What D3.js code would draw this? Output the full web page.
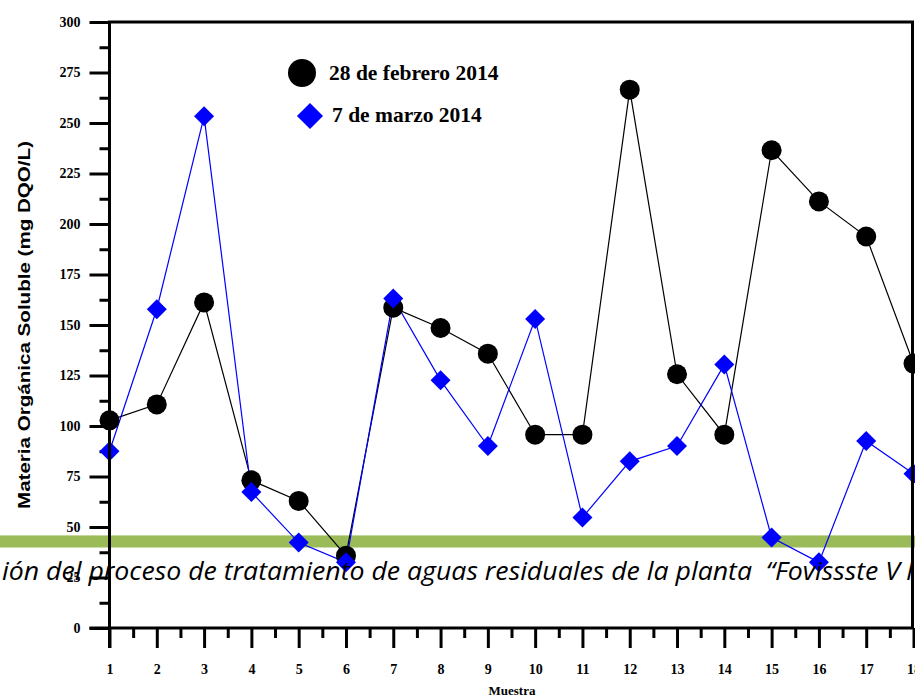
<!DOCTYPE html>
<html>
<head>
<meta charset="utf-8">
<script src="https://cdn.jsdelivr.net/npm/d3@7/dist/d3.min.js"></script>
<style>
  html, body { margin: 0; padding: 0; background: #fff; }
  svg { display: block; }
</style>
</head>
<body>
<script>
// Sample numbers along the x axis
const muestras = d3.range(1, 19);
// Soluble organic matter (mg DQO/L) per sample
const febrero28 = [102.8, 110.7, 161.2, 73.1, 62.9, 35.8, 158.6, 148.5, 135.8, 95.7, 95.7, 266.5, 125.6, 95.7, 236.5, 211.2, 193.8, 130.9];
const marzo7 = [87.5, 157.8, 253.3, 67.3, 42.3, 32.5, 163.1, 122.6, 90.1, 153.0, 54.7, 82.5, 90.1, 130.4, 44.8, 32.5, 92.6, 76.4];
const seriesNames = ["28 de febrero 2014", "7 de marzo 2014"];
const yTicks = d3.range(0, 301, 25);
const yTitle = "Materia Orgánica Soluble (mg DQO/L)";
const xTitle = "Muestra";
const bannerText = "ión del proceso de tratamiento de aguas residuales de la planta \u00A0\u201CFovissste V";

const W = 915, H = 700;
const svg = d3.select("body").append("svg").attr("width", W).attr("height", H);

const x = d3.scaleLinear().domain([1, 18]).range([109.5, 913.5]);
const y = d3.scaleLinear().domain([0, 300]).range([628, 22]);

const serif = "'Liberation Serif', 'Times New Roman', serif";

// Y axis: major ticks every 25, minor ticks in between
const yMajor = svg.append("g").attr("transform", `translate(${x(1)},0)`)
  .call(d3.axisLeft(y).tickValues(yTicks).tickSize(20).tickPadding(9).tickFormat(d3.format("d")));
const yMinor = svg.append("g").attr("transform", `translate(${x(1)},0)`)
  .call(d3.axisLeft(y).tickValues(yTicks.slice(0, -1).map(v => v + 12.5)).tickSize(10).tickFormat(""));

// X axis: major tick on each sample, minor tick halfway
const xMajor = svg.append("g").attr("transform", `translate(0,${y(0)})`)
  .call(d3.axisBottom(x).tickValues(muestras).tickSize(20).tickPadding(16).tickFormat(d3.format("d")));
const xMinor = svg.append("g").attr("transform", `translate(0,${y(0)})`)
  .call(d3.axisBottom(x).tickValues(muestras.map(v => v + 0.5)).tickSize(10).tickFormat(""));

[yMajor, yMinor, xMajor, xMinor].forEach(g => {
  g.select(".domain").remove();
  g.selectAll(".tick line").attr("stroke", "#000").attr("stroke-width", 3);
  g.selectAll(".tick text").attr("font-family", serif).attr("font-weight", "bold")
    .attr("font-size", 14).attr("fill", "#000");
});
// extend the top tick to meet the frame
yMajor.selectAll(".tick").filter(d => d === 300).select("line").attr("x2", -20);

// Band behind the data
svg.append("rect").attr("x", 0).attr("y", 535).attr("width", W).attr("height", 12.5)
  .attr("fill", "#9BBB59");
svg.append("line").attr("x1", 0).attr("x2", W).attr("y1", 535.5).attr("y2", 535.5)
  .attr("stroke", "#c3d69b").attr("stroke-width", 1);

// Connecting lines
const line = d3.line().x((d, i) => x(muestras[i])).y(d => y(d));
svg.append("path").datum(febrero28).attr("d", line)
  .attr("fill", "none").attr("stroke", "#000").attr("stroke-width", 1.2);
svg.append("path").datum(marzo7).attr("d", line)
  .attr("fill", "none").attr("stroke", "#0000ff").attr("stroke-width", 1.2);

// Markers
svg.append("g").selectAll("circle").data(febrero28).join("circle")
  .attr("cx", (d, i) => x(muestras[i])).attr("cy", d => y(d)).attr("r", 10).attr("fill", "#000");
const diamond = d3.symbol().type(d3.symbolSquare).size(200);
svg.append("g").selectAll("path").data(marzo7).join("path")
  .attr("d", diamond)
  .attr("transform", (d, i) => `translate(${x(muestras[i])},${y(d)}) rotate(45)`)
  .attr("fill", "#0000ff");

// Frame
svg.append("path")
  .attr("d", `M${x(1)},${y(0) + 20} V${y(300)} H912.5 V${y(0)} H${x(1) - 20}`)
  .attr("fill", "none").attr("stroke", "#000").attr("stroke-width", 3)
  .attr("stroke-linejoin", "miter");

// Axis titles
svg.append("text").attr("x", 512).attr("y", 695).attr("text-anchor", "middle")
  .attr("font-family", serif).attr("font-weight", "bold").attr("font-size", 13)
  .text(xTitle);
svg.append("text").attr("transform", "translate(30,325) rotate(-90)")
  .attr("text-anchor", "middle")
  .attr("font-family", "'Liberation Sans', Arial, sans-serif").attr("font-weight", "bold")
  .attr("font-size", 17).attr("textLength", 368).attr("lengthAdjust", "spacingAndGlyphs")
  .text(yTitle);

// Legend
const legend = svg.append("g");
legend.append("circle").attr("cx", 302).attr("cy", 73).attr("r", 14).attr("fill", "#000");
legend.append("path").attr("d", d3.symbol().type(d3.symbolSquare).size(340))
  .attr("transform", "translate(310,116) rotate(45)").attr("fill", "#0000ff");
legend.append("text").attr("x", 329).attr("y", 80)
  .attr("font-family", serif).attr("font-weight", "bold").attr("font-size", 21.5)
  .text(seriesNames[0]);
legend.append("text").attr("x", 332).attr("y", 122)
  .attr("font-family", serif).attr("font-weight", "bold").attr("font-size", 21.5)
  .text(seriesNames[1]);

// Italic banner line across the lower plot
svg.append("text").attr("x", 2).attr("y", 580)
  .attr("font-family", "'Open Sans', 'Noto Sans', sans-serif").attr("font-style", "italic")
  .attr("font-size", 26).attr("textLength", 898).attr("lengthAdjust", "spacingAndGlyphs")
  .attr("fill", "#000")
  .text(bannerText);
svg.append("text").attr("x", 906).attr("y", 580)
  .attr("font-family", "'Open Sans', 'Noto Sans', sans-serif").attr("font-style", "italic")
  .attr("font-size", 26).attr("fill", "#000").text("I");
</script>
</body>
</html>
